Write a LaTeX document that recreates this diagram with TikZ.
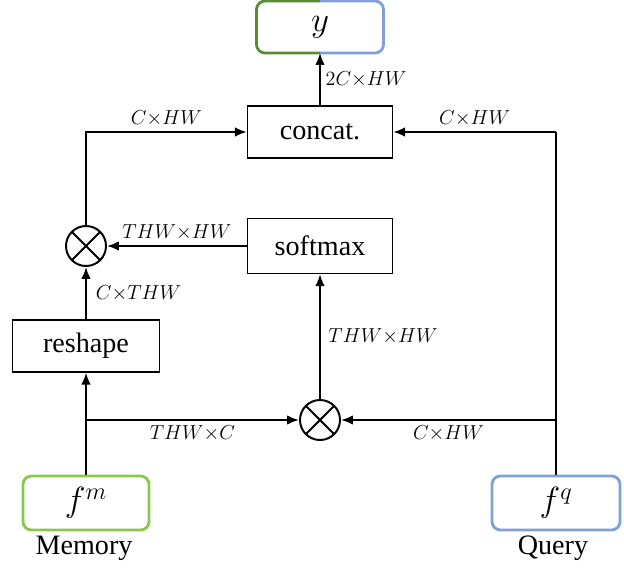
\documentclass[tikz,border=0pt]{standalone}
\usepackage{fontspec}
\setmainfont{Liberation Serif}
\usepackage{amsmath}
\usepackage{tikz}
\usetikzlibrary{arrows.meta, positioning}
\tikzset{>={Latex[length=3mm,width=2.4mm]}}
\definecolor{memgreen}{HTML}{8CC64E}
\definecolor{qryblue}{HTML}{7F9FDA}
\definecolor{outgreen}{HTML}{5A8C35}

\begin{document}
\begin{tikzpicture}[x=0.025cm, y=-0.025cm, line width=1.4pt,
    op/.style={draw, line width=0.9pt, minimum width=3.625cm, minimum height=1.3cm, font=\fontsize{20}{24}\selectfont},
    feat/.style={draw, line width=2pt, rounded corners=6pt, minimum width=3.15cm, minimum height=1.35cm, font=\fontsize{24}{28}\selectfont},
    mul/.style={draw, circle, line width=1.4pt, minimum size=1cm, inner sep=0pt,
        path picture={\draw[line width=1.4pt] (path picture bounding box.north west) ++(0.15cm,-0.15cm) -- ++(0.7cm,-0.7cm);
                      \draw[line width=1.4pt] (path picture bounding box.north east) ++(-0.15cm,-0.15cm) -- ++(-0.7cm,-0.7cm);}},
    dim/.style={font=\fontsize{14.5}{16}\selectfont}]
    \useasboundingbox (0,0) rectangle (624,567);

    % boxes
    \node[op] (concat) at (320,132) {concat.};
    \node[op, minimum height=1.375cm] (softmax) at (320,246) {softmax};
    \node[op, minimum width=3.675cm] (reshape) at (86,346) {reshape};
    \node[mul] (m1) at (86,246) {};
    \node[mul] (m2) at (320,420) {};
    \node[feat, draw=memgreen] (fm) at (86,503) {$f^{m}$};
    \node[feat, draw=qryblue, minimum width=3.2cm] (fq) at (556,503) {$f^{q}$};
    \node[minimum width=3.125cm, minimum height=1.25cm, font=\fontsize{24}{28}\selectfont] (y) at (320,27) {$y$};
    \draw[outgreen, line width=2pt, rounded corners=6pt] (y.north) -| (y.west) |- (y.south);
    \draw[qryblue, line width=2pt, rounded corners=6pt] (y.north) -| (y.east) |- (y.south);
    \node[font=\fontsize{20}{24}\selectfont] (memlabel) at (84,548) {Memory};
    \node[font=\fontsize{20}{24}\selectfont] (qrylabel) at (553,548) {Query};

    % branch points
    \coordinate (mb) at (86,420);
    \coordinate (qb) at (556,420);
    \coordinate (qt) at (556,132);

    % connectors
    \draw[->] (fm) -- (reshape);
    \draw[->] (mb) -- node[dim, below] {$THW{\times}C$} (m2);
    \draw (fq) -- (qt);
    \draw[->] (qt) -- node[dim, above] {$C{\times}HW$} (concat);
    \draw[->] (qb) -- node[dim, below] {$C{\times}HW$} (m2);
    \draw[->] (m2) -- node[dim, right=2pt] {$THW{\times}HW$} (softmax);
    \draw[->] (softmax) -- node[dim, above] {$THW{\times}HW$} (m1);
    \draw[->] (reshape) -- node[dim, right=3pt] {$C{\times}THW$} (m1);
    \draw[->] (m1) |- node[dim, pos=0.75, above] {$C{\times}HW$} (concat);
    \draw[->] (concat) -- node[dim, right] {$2C{\times}HW$} (y);
\end{tikzpicture}
\end{document}
